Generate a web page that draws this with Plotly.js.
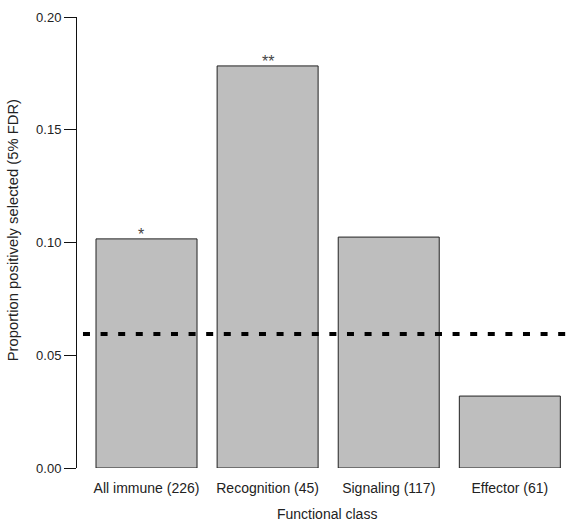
<!DOCTYPE html>
<html>
<head>
<meta charset="utf-8">
<script src="https://cdn.plot.ly/plotly-3.0.1.min.js"></script>
<style>
  html, body { margin: 0; padding: 0; background: #ffffff; }
  #chart { width: 567px; height: 525px; }
</style>
</head>
<body>
<div id="chart"></div>
<script>
// ---- data ----
var categories = ["All immune (226)", "Recognition (45)", "Signaling (117)", "Effector (61)"];
var proportions = [0.1016, 0.1783, 0.1024, 0.0319];
var significance = ["*", "**", "", ""];
var fdrBaseline = 0.0594;
var yTickValues = [0, 0.05, 0.10, 0.15, 0.20];
var yTickLabels = ["0.00", "0.05", "0.10", "0.15", "0.20"];
var xTitle = "Functional class";
var yTitle = "Proportion positively selected (5% FDR)";

var font = "Liberation Sans, Arial, Helvetica, sans-serif";
var textColor = "#222222";

var trace = {
  type: "bar",
  x: categories,
  y: proportions,
  marker: { color: "#bebebe", line: { color: "#222222", width: 1 } },
  hoverinfo: "x+y"
};

var annotations = [];
significance.forEach(function (s, i) {
  if (!s) return;
  annotations.push({
    x: categories[i], y: proportions[i], xref: "x", yref: "y",
    text: s, showarrow: false, xanchor: "center", yanchor: "bottom",
    xshift: i === 0 ? -6 : 0, yshift: -6,
    font: { family: font, size: 16, color: "#444444" }
  });
});
annotations.push({
  xref: "paper", yref: "paper", x: 0.511, y: 0, yshift: -46,
  xanchor: "center", yanchor: "middle", showarrow: false,
  text: xTitle, font: { family: font, size: 14, color: textColor }
});
annotations.push({
  xref: "paper", yref: "paper", x: -0.131, y: 0.5, yshift: 12,
  xanchor: "center", yanchor: "middle", showarrow: false, textangle: -90,
  text: yTitle, font: { family: font, size: 14.8, color: textColor }
});

var layout = {
  width: 567, height: 525,
  margin: { l: 77, r: 0, t: 17, b: 57, pad: 0 },
  paper_bgcolor: "#ffffff", plot_bgcolor: "#ffffff",
  showlegend: false,
  bargap: 0.166,
  font: { family: font, size: 13, color: textColor },
  xaxis: {
    type: "category",
    range: [-0.574, 3.472],
    showline: false, showgrid: false, zeroline: false,
    ticks: "", ticklabelstandoff: 10,
    tickfont: { family: font, size: 14, color: textColor },
    fixedrange: true
  },
  yaxis: {
    range: [0, 0.2],
    tickvals: yTickValues, ticktext: yTickLabels,
    showline: true, linecolor: "#111111", linewidth: 1,
    ticks: "outside", ticklen: 12, tickwidth: 1, tickcolor: "#111111",
    showgrid: false, zeroline: false,
    tickfont: { family: font, size: 13, color: textColor },
    fixedrange: true
  },
  shapes: [{
    type: "line", xref: "paper", yref: "y",
    x0: 0.0122, x1: 1, y0: fdrBaseline, y1: fdrBaseline,
    line: { color: "#000000", width: 4, dash: "7px,10.6px" }
  }],
  annotations: annotations
};

Plotly.newPlot("chart", [trace], layout, { displayModeBar: false, staticPlot: true });
</script>
</body>
</html>
